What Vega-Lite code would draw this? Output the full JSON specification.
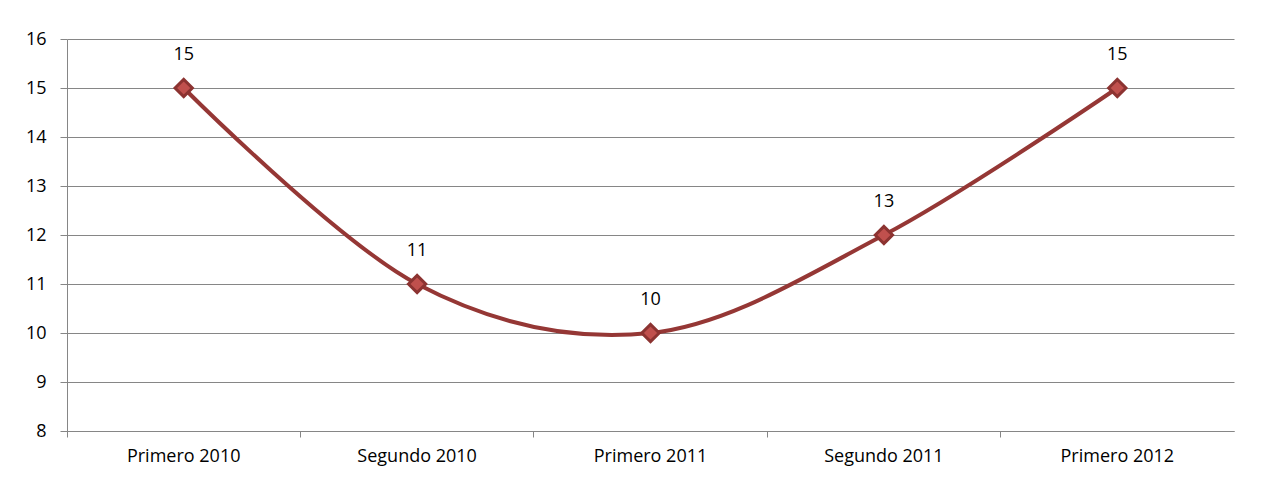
{
  "$schema": "https://vega.github.io/schema/vega-lite/v6.json",
  "width": 1167,
  "height": 392,
  "autosize": {"type": "none"},
  "padding": {"left": 67, "top": 39, "right": 27, "bottom": 50},
  "background": "white",
  "config": {
    "view": {"stroke": null},
    "font": "Open Sans",
    "axis": {
      "labelFont": "Open Sans",
      "labelFontSize": 18,
      "labelColor": "#000000",
      "domainColor": "#868686",
      "tickColor": "#868686",
      "gridColor": "#868686",
      "gridOpacity": 1,
      "title": null
    }
  },
  "data": {
    "values": [
      {"periodo": "Primero 2010", "valor": 15, "etiqueta": "15"},
      {"periodo": "Segundo 2010", "valor": 11, "etiqueta": "11"},
      {"periodo": "Primero 2011", "valor": 10, "etiqueta": "10"},
      {"periodo": "Segundo 2011", "valor": 12, "etiqueta": "13"},
      {"periodo": "Primero 2012", "valor": 15, "etiqueta": "15"}
    ]
  },
  "encoding": {
    "x": {
      "field": "periodo",
      "type": "nominal",
      "sort": null,
      "scale": {"type": "band", "paddingInner": 0, "paddingOuter": 0},
      "axis": {
        "labelAngle": 0,
        "bandPosition": 0,
        "labelPadding": 10,
        "tickSize": 6,
        "grid": false,
        "labelBound": false,
        "labelFlush": false
      }
    },
    "y": {
      "field": "valor",
      "type": "quantitative",
      "scale": {"domain": [8, 16], "nice": false, "zero": false},
      "axis": {
        "values": [8, 9, 10, 11, 12, 13, 14, 15, 16],
        "tickSize": 7,
        "labelPadding": 14,
        "grid": true,
        "domain": true
      }
    }
  },
  "layer": [
    {
      "mark": {"type": "line", "interpolate": "cardinal", "color": "#953735", "strokeWidth": 4}
    },
    {
      "mark": {"type": "point", "shape": "diamond", "filled": true, "size": 300, "fill": "#c0504d", "stroke": "#8c3331", "strokeWidth": 3, "opacity": 1}
    },
    {
      "mark": {"type": "text", "dy": -33, "fontSize": 18, "font": "Open Sans", "color": "#000000"},
      "encoding": {"text": {"field": "etiqueta"}}
    }
  ]
}
